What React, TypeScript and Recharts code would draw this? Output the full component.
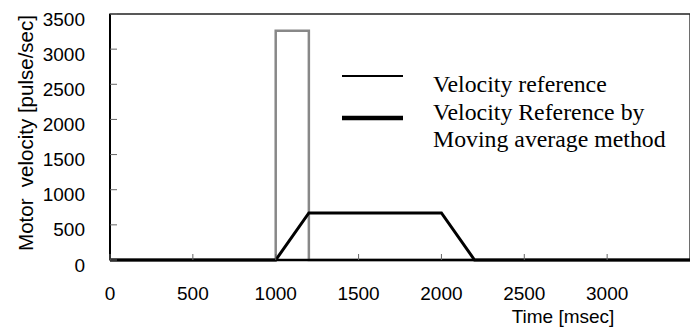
import React from 'react';
import {
  LineChart,
  Line,
  XAxis,
  YAxis,
  Legend,
  ReferenceArea,
  Label,
} from 'recharts';

// velocity reference (step pulse)
const refTime = [0, 1000, 1000, 1200, 1200, 3500];
const refVelocity = [0, 0, 3260, 3260, 0, 0];

// moving-average smoothed reference
const avgTime = [0, 1000, 1200, 2000, 2200, 3500];
const avgVelocity = [0, 0, 670, 670, 0, 0];

const xTicks = [0, 500, 1000, 1500, 2000, 2500, 3000];
const yTicks = [0, 500, 1000, 1500, 2000, 2500, 3000, 3500];

const seriesNames = ['Velocity reference', 'Velocity Reference by\nMoving average method'];

const refData = refTime.map((t, i) => ({ t, v: refVelocity[i] }));
const avgData = avgTime.map((t, i) => ({ t, v: avgVelocity[i] }));

const sans = '"Liberation Sans", Arial, sans-serif';
const serif = '"Liberation Serif", "Times New Roman", serif';

const legendStroke = [2, 4.5];

// ticks point inward; label offset = tickSize + tickMargin
const X_OFF = 26;
const Y_OFF = 25;

function YTick({ x, y, payload }: any) {
  const ax = x + Y_OFF;
  return (
    <g>
      <line x1={ax} x2={ax + 7} y1={y} y2={y} stroke="#666" strokeWidth={1} />
      <text x={x} y={y + 5} textAnchor="end" dominantBaseline="central" fontSize={19} fontFamily={sans} fill="#000">
        {payload.value}
      </text>
    </g>
  );
}

function XTick({ x, y, payload }: any) {
  const ay = y - X_OFF;
  return (
    <g>
      <line x1={x} x2={x} y1={ay} y2={ay - 6} stroke="#666" strokeWidth={1} />
      <text x={x} y={y + 14} textAnchor="middle" fontSize={19} fontFamily={sans} fill="#000">
        {payload.value}
      </text>
    </g>
  );
}

function LegendBox() {
  return (
    <svg width={345} height={100} style={{ overflow: 'visible', display: 'block' }}>
      {seriesNames.map((name, i) => {
        const lineY = i === 0 ? 13 : 55;
        return <line key={name} x1={4} x2={65} y1={lineY} y2={lineY} stroke="#000" strokeWidth={legendStroke[i]} />;
      })}
      <text fontFamily={serif} fontSize={23.8} fill="#000">
        <tspan x={95} y={29}>{seriesNames[0]}</tspan>
        <tspan x={95} y={57}>{seriesNames[1].split('\n')[0]}</tspan>
        <tspan x={95} y={84}>{seriesNames[1].split('\n')[1]}</tspan>
      </text>
    </svg>
  );
}

export default function App() {
  return (
    <div style={{ width: 690, height: 319 }}>
      <LineChart width={690} height={319} margin={{ top: 6, right: 8, left: 42, bottom: 27 }}>
        <XAxis
          type="number"
          dataKey="t"
          domain={[0, 3500]}
          ticks={xTicks}
          allowDuplicatedCategory={false}
          height={40}
          tickSize={-6}
          tickMargin={32}
          tickLine={false}
          axisLine={{ stroke: '#000', strokeWidth: 2.5 }}
          tick={<XTick />}
          interval={0}
        >
          <Label
            content={() => (
              <text x={555} y={315} textAnchor="middle" fontSize={19} fontFamily={sans} fill="#000">
                Time [msec]
              </text>
            )}
          />
        </XAxis>
        <YAxis
          type="number"
          domain={[0, 3500]}
          ticks={yTicks}
          width={60}
          tickSize={-7}
          tickMargin={32}
          tickLine={false}
          axisLine={{ stroke: '#000', strokeWidth: 2 }}
          tick={<YTick />}
          interval={0}
        >
          <Label
            content={() => (
              <text
                x={17}
                y={125}
                transform="rotate(-90 17 125)"
                textAnchor="middle"
                dominantBaseline="central"
                fontSize={20.5}
                fontFamily={sans}
                fill="#000"
                style={{ whiteSpace: 'pre' }}
              >
                {'Motor  velocity [pulse/sec]'}
              </text>
            )}
          />
        </YAxis>
        <ReferenceArea x1={0} x2={3500} y1={0} y2={3500} fill="none" stroke="#222" strokeWidth={1.3} />
        <Line
          data={refData}
          dataKey="v"
          name={seriesNames[0]}
          type="linear"
          stroke="#888"
          strokeWidth={2.5}
          dot={false}
          isAnimationActive={false}
        />
        <Line
          data={avgData}
          dataKey="v"
          name={seriesNames[1]}
          type="linear"
          stroke="#000"
          strokeWidth={3}
          dot={false}
          isAnimationActive={false}
        />
        <Legend
          layout="horizontal"
          align="center"
          verticalAlign="middle"
          content={() => <LegendBox />}
          wrapperStyle={{ position: 'absolute', left: 330, top: 55, width: 345, height: 100 }}
        />
      </LineChart>
    </div>
  );
}
